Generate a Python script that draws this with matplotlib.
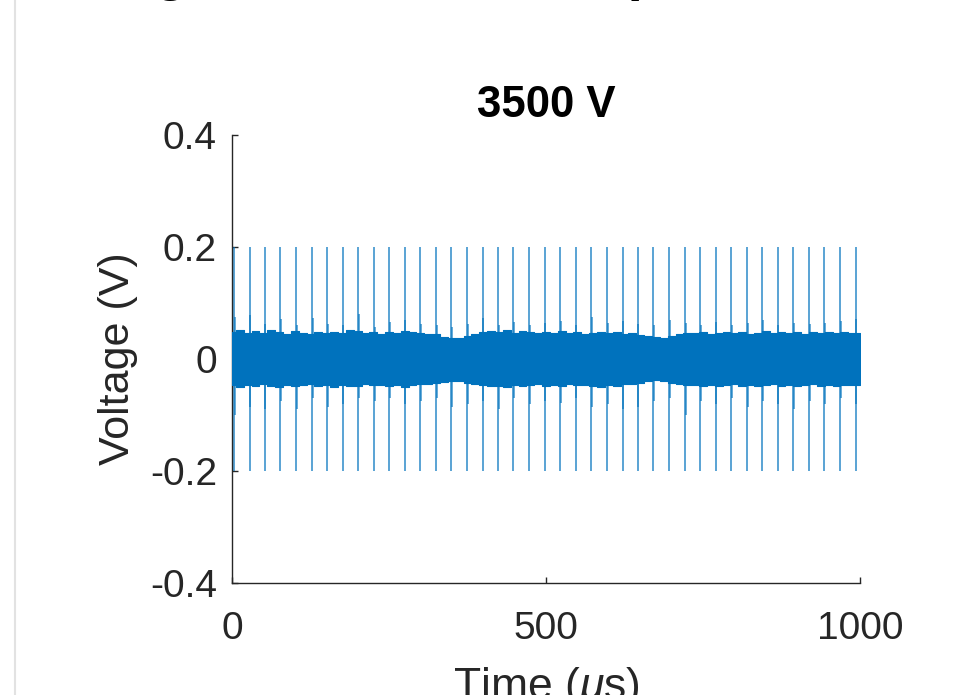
import numpy as np
import matplotlib
matplotlib.use("Agg")
import matplotlib.pyplot as plt
from matplotlib.lines import Line2D

plt.rcParams['font.family'] = ['Liberation Sans', 'DejaVu Sans']
plt.rcParams['mathtext.fontset'] = 'custom'
plt.rcParams['mathtext.rm'] = 'Liberation Sans'
plt.rcParams['mathtext.it'] = 'Liberation Sans:italic'

# ---- data ----
title_text = "3500 V"
x_label = r"Time ($\mu$s)"
y_label = "Voltage (V)"
x_ticks = [0, 500, 1000]
y_ticks = [-0.4, -0.2, 0, 0.2, 0.4]
y_tick_labels = ["-0.4", "-0.2", "0", "0.2", "0.4"]

spike_t = [3, 28, 52, 77, 102, 127, 151, 176, 201, 226, 250, 275, 300, 325,
           349, 374, 399, 424, 448, 473, 498, 523, 547, 572, 597, 622, 646,
           671, 696, 721, 745, 770, 795, 820, 844, 869, 894, 919, 943, 968, 993]
spike_hi = 0.2
spike_lo = -0.2

ring_up = [0.075, 0.078, 0.062, 0.072, 0.060, 0.074, 0.063, 0.060, 0.081, 0.058,
           0.066, 0.070, 0.062, 0.060, 0.058, 0.062, 0.073, 0.060, 0.066, 0.060,
           0.064, 0.068, 0.060, 0.075, 0.064, 0.068, 0.062, 0.060, 0.070, 0.064,
           0.061, 0.066, 0.060, 0.064, 0.070, 0.060, 0.064, 0.062, 0.064, 0.068, 0.072]
ring_dn = [-0.100, -0.085, -0.090, -0.075, -0.090, -0.070, -0.085, -0.080, -0.070, -0.075,
           -0.070, -0.080, -0.075, -0.070, -0.085, -0.080, -0.075, -0.090, -0.070, -0.080,
           -0.075, -0.078, -0.070, -0.085, -0.080, -0.090, -0.085, -0.075, -0.070, -0.100,
           -0.075, -0.080, -0.070, -0.085, -0.075, -0.080, -0.090, -0.075, -0.080, -0.070, -0.080]

env_t = np.linspace(0, 1000, 81)
env_up = [0.048, 0.052, 0.047, 0.050, 0.046, 0.051, 0.049, 0.045, 0.050, 0.047,
          0.044, 0.048, 0.046, 0.049, 0.047, 0.051, 0.050, 0.046, 0.048, 0.045,
          0.049, 0.047, 0.050, 0.048, 0.046, 0.044, 0.045, 0.040, 0.038, 0.037,
          0.041, 0.045, 0.048, 0.050, 0.049, 0.052, 0.047, 0.050, 0.048, 0.046,
          0.049, 0.047, 0.050, 0.046, 0.048, 0.045, 0.047, 0.049, 0.046, 0.048,
          0.044, 0.046, 0.043, 0.041, 0.039, 0.038, 0.041, 0.044, 0.047, 0.046,
          0.048, 0.045, 0.047, 0.049, 0.046, 0.048, 0.045, 0.047, 0.050, 0.046,
          0.048, 0.047, 0.049, 0.045, 0.048, 0.046, 0.049, 0.047, 0.048, 0.046, 0.047]
env_dn = [-0.046, -0.050, -0.047, -0.049, -0.045, -0.048, -0.050, -0.046, -0.049, -0.047,
          -0.045, -0.048, -0.046, -0.050, -0.047, -0.049, -0.048, -0.045, -0.047, -0.046,
          -0.049, -0.047, -0.050, -0.046, -0.044, -0.045, -0.043, -0.041, -0.040, -0.039,
          -0.042, -0.045, -0.047, -0.049, -0.048, -0.050, -0.046, -0.049, -0.047, -0.045,
          -0.048, -0.046, -0.049, -0.045, -0.047, -0.046, -0.048, -0.050, -0.046, -0.048,
          -0.045, -0.044, -0.042, -0.040, -0.038, -0.039, -0.042, -0.045, -0.047, -0.046,
          -0.048, -0.046, -0.049, -0.047, -0.045, -0.048, -0.046, -0.049, -0.047, -0.045,
          -0.048, -0.046, -0.049, -0.047, -0.045, -0.048, -0.046, -0.049, -0.047, -0.046, -0.047]

blue = '#0072BD'
dark = '#262626'

fig = plt.figure(figsize=(9.67, 6.95), dpi=100)
ax = fig.add_axes([232 / 967, 1 - 583 / 695, 628 / 967, 448 / 695])

# spikes
ax.vlines(spike_t, spike_lo, spike_hi, color=blue, lw=1.4, alpha=0.65, zorder=2)
# ringing around each spike
ax.vlines(np.array(spike_t) + 1.2, ring_dn, ring_up, color=blue, lw=1.2, alpha=0.7, zorder=2)
# dense noise band
ax.fill_between(env_t, env_dn, env_up, step='mid', color=blue, lw=0.8,
                edgecolor=blue, zorder=3)

ax.set_xlim(0, 1000)
ax.set_ylim(-0.4, 0.4)
ax.set_xticks(x_ticks)
ax.set_xticklabels([str(v) for v in x_ticks])
ax.set_yticks(y_ticks)
ax.set_yticklabels(y_tick_labels)

for s in ['top', 'right']:
    ax.spines[s].set_visible(False)
for s in ['left', 'bottom']:
    ax.spines[s].set_color(dark)
    ax.spines[s].set_linewidth(1.0)

ax.tick_params(axis='both', direction='in', length=4.3, width=1.0, colors=dark,
               labelsize=28, labelcolor=dark)
ax.tick_params(axis='y', pad=10.8)
ax.tick_params(axis='x', pad=20)

ax.set_title(title_text, fontsize=31.5, fontweight='bold', color='black', pad=13)
ax.set_ylabel(y_label, fontsize=31, color=dark)
ax.yaxis.set_label_coords(-0.1497, 0.5)
ax.set_xlabel(x_label, fontsize=32, color=dark)
ax.xaxis.set_label_coords(0.5, -0.183)

# cropped heading above the figure (only descenders visible)
fig.text(26 / 967, 1 + 10 / 695, "Voltage Waveform Comparison", fontsize=39,
         fontweight='bold', color='black', ha='left', va='baseline')

# grey frame line at left edge
fig.add_artist(Line2D([14.5 / 967, 14.5 / 967], [0, 1], transform=fig.transFigure,
                      color='#e2e2e2', lw=1.5))

fig.savefig('out.png', dpi=100)
